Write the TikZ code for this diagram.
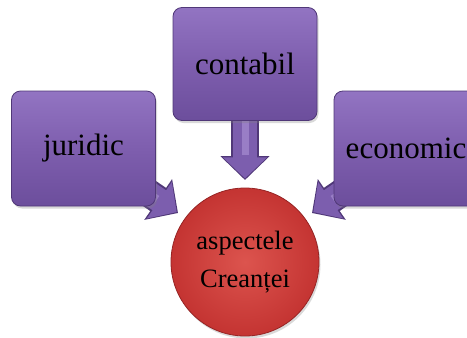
\documentclass[tikz,border=0pt]{standalone}
\usepackage{fontspec}
\setmainfont{Liberation Serif}
\usetikzlibrary{arrows.meta,shadows,backgrounds}

\definecolor{boxtop}{RGB}{146,116,194}
\definecolor{boxmid}{RGB}{126,94,174}
\definecolor{boxbot}{RGB}{108,78,156}
\definecolor{boxline}{RGB}{80,56,120}
\definecolor{arrowfill}{RGB}{124,94,174}
\definecolor{arrowlight}{RGB}{178,154,218}
\definecolor{balllight}{RGB}{220,84,78}
\definecolor{balldark}{RGB}{196,52,50}
\definecolor{ballline}{RGB}{150,36,36}

\tikzset{
  topic/.style={draw=boxline, line width=0.8pt, rounded corners=9pt,
    top color=boxtop, bottom color=boxbot, middle color=boxmid,
    minimum width=144pt, font=\fontsize{31}{37}\selectfont,
    drop shadow={shadow xshift=1.5pt, shadow yshift=-2.5pt, opacity=0.3}},
  hub/.style={circle, draw=ballline, line width=0.8pt,
    inner color=balllight, outer color=balldark,
    minimum size=148pt, inner sep=0pt, align=center,
    font=\fontsize{26.5}{38}\selectfont,
    drop shadow={shadow xshift=1.5pt, shadow yshift=-2.5pt, opacity=0.3}},
  feededge/.style={line width=28pt, boxline, -{Triangle[width=48pt,length=24pt]}},
  feedfill/.style={line width=24pt, arrowfill, -{Triangle[width=43pt,length=21pt]}, shorten >=1.6pt},
  feedshine/.style={line width=7pt, arrowlight, opacity=0.55, shorten >=25pt, line cap=butt},
}

\begin{document}
\begin{tikzpicture}[x=1pt,y=-1pt]
  \useasboundingbox (0,0) rectangle (467,338);

  % three topic boxes and the central disc
  \node[topic, minimum height=115pt] (jur) at (83.5,148.5) {juridic};
  \node[topic, minimum height=113pt] (con) at (245,64) {contabil};
  \node[topic, minimum height=115pt] (eco) at (406,148.5) {economic};
  \node[hub] (hub) at (245,262) {aspectele\\Creanței};

  % arrow tips, just short of the disc
  \coordinate (tipJ) at (178,213);
  \coordinate (tipC) at (245,180);
  \coordinate (tipE) at (312,213);

  % block arrows behind the boxes
  \begin{pgfonlayer}{background}
    \foreach \src/\tip in {jur/tipJ, con/tipC, eco/tipE} {
      \draw[feededge] (\src.center) -- (\tip);
      \draw[feedfill] (\src.center) -- (\tip);
      \draw[feedshine] (\src.center) -- (\tip);
    }
  \end{pgfonlayer}
\end{tikzpicture}
\end{document}
